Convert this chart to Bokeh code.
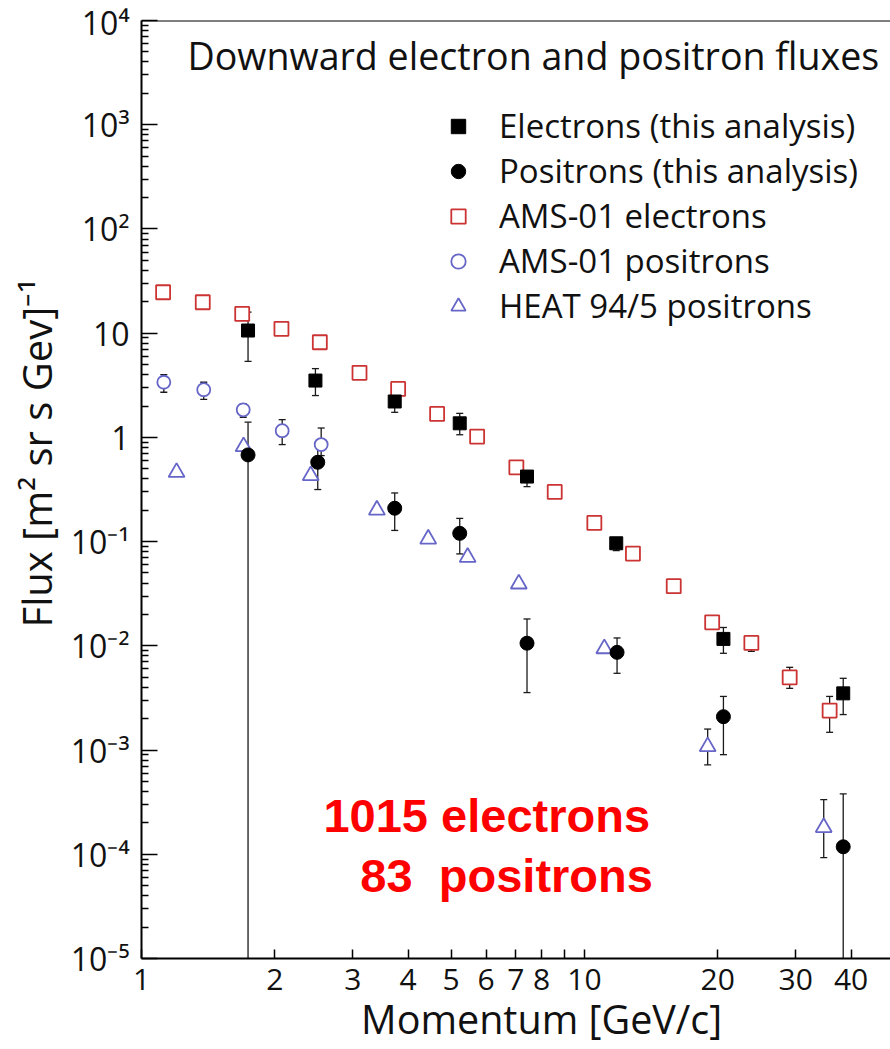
from bokeh.plotting import figure
from bokeh.models import (FixedTicker, Label, Span, Legend, LegendItem, Range1d)
from bokeh.embed import file_html
from bokeh.resources import INLINE

# ---------------- data ----------------
# Electrons (this analysis)
e_mom = [1.74, 2.47, 3.73, 5.23, 7.42, 11.8, 20.6, 38.4]
e_flux = [10.6, 3.51, 2.21, 1.365, 0.421, 0.0964, 0.01165, 0.0035]
e_lo = [5.37, 2.52, 1.74, 1.06, 0.337, 0.082, 0.00848, 0.00219]
e_hi = [15.9, 4.57, 2.63, 1.70, 0.462, 0.109, 0.015, 0.00488]

# Positrons (this analysis)
p_mom = [1.74, 2.50, 3.73, 5.23, 7.42, 11.85, 20.6, 38.4]
p_flux = [0.679, 0.577, 0.209, 0.120, 0.0106, 0.00866, 0.00209, 1.18e-4]
p_lo = [1e-8, 0.316, 0.128, 0.0762, 0.00356, 0.00545, 0.000903, 1e-8]
p_hi = [1.40, 0.822, 0.293, 0.167, 0.0181, 0.0119, 0.00327, 3.79e-4]

# AMS-01 electrons
ame_mom = [1.119, 1.375, 1.688, 2.07, 2.527, 3.106, 3.797, 4.65, 5.725, 7.02,
           8.57, 10.53, 12.87, 15.91, 19.43, 23.82, 29.07, 35.78]
ame_flux = [24.7, 19.8, 15.3, 11.0, 8.18, 4.16, 2.92, 1.68, 1.018, 0.516,
            0.300, 0.151, 0.0767, 0.0374, 0.0168, 0.01067, 0.00499, 0.00239]
ame_lo = [23.5, 18.8, 14.5, 10.4, 7.8, 3.95, 2.77, 1.60, 0.965, 0.49,
          0.285, 0.143, 0.0728, 0.0354, 0.0158, 0.00885, 0.00391, 0.00148]
ame_hi = [26.0, 20.8, 16.1, 11.6, 8.6, 4.37, 3.07, 1.77, 1.07, 0.543,
          0.316, 0.159, 0.0806, 0.0394, 0.0178, 0.01245, 0.00622, 0.00327]

# AMS-01 positrons
amp_mom = [1.123, 1.382, 1.697, 2.078, 2.545]
amp_flux = [3.38, 2.87, 1.84, 1.16, 0.853]
amp_lo = [2.71, 2.32, 1.56, 0.853, 0.669]
amp_hi = [4.01, 3.38, 2.11, 1.48, 1.23]

# HEAT 94/5 positrons
heat_mom = [1.20, 1.70, 2.41, 3.40, 4.44, 5.45, 7.11, 11.09, 18.98, 34.7]
heat_flux = [0.462, 0.816, 0.430, 0.201, 0.106, 0.0707, 0.0393, 0.0094, 0.00108, 1.81e-4]
heat_lo = [0.44, 0.78, 0.41, 0.192, 0.101, 0.0675, 0.0375, 0.0089, 0.00072, 9.3e-5]
heat_hi = [0.485, 0.855, 0.45, 0.21, 0.111, 0.074, 0.0411, 0.0099, 0.00159, 3.34e-4]

# axis ticks and labels
x_ticks = [1, 2, 3, 4, 5, 6, 7, 8, 10, 20, 30, 40]
x_tick_labels = ["1", "2", "3", "4", "5", "6", "7", "8", "10", "20", "30", "40"]
x_minor = [9, 50]
y_ticks = [1e-5, 1e-4, 1e-3, 1e-2, 1e-1, 1.0, 10.0, 100.0, 1000.0, 10000.0]
y_tick_labels = ["10\u207b\u2075", "10\u207b\u2074", "10\u207b\u00b3", "10\u207b\u00b2",
                 "10\u207b\u00b9", "1", "10", "10\u00b2", "10\u00b3", "10\u2074"]

legend_labels = ["Electrons (this analysis)", "Positrons (this analysis)",
                 "AMS-01 electrons", "AMS-01 positrons", "HEAT 94/5 positrons"]

RED = "#cc3333"
BLUE = "#6666c8"
ERR = "#1a1a1a"
FONT = "Open Sans"
NBSP = "\u00a0"

p = figure(width=890, height=1049, x_axis_type="log", y_axis_type="log",
           x_range=Range1d(1, 49.1), y_range=Range1d(1e-5, 1e4),
           output_backend="svg", toolbar_location=None,
           min_border_left=141, min_border_right=0, min_border_top=20,
           min_border_bottom=91)
p.outline_line_color = None
p.xgrid.visible = False
p.ygrid.visible = False
p.background_fill_color = "white"
p.border_fill_color = "white"

# top frame line
p.add_layout(Span(location=1e4, dimension="width", line_color="black", line_width=2))

# axes
xa = p.xaxis[0]
xa.ticker = FixedTicker(ticks=x_ticks, minor_ticks=x_minor)
xa.major_label_overrides = {t: l for t, l in zip(x_ticks, x_tick_labels)}
ya = p.yaxis[0]
ya.ticker = FixedTicker(ticks=y_ticks,
                        minor_ticks=[k * 10.0 ** d for d in range(-5, 4) for k in range(2, 10)])
ya.major_label_overrides = {t: l for t, l in zip(y_ticks, y_tick_labels)}
for ax in (xa, ya):
    ax.axis_line_width = 2
    ax.axis_line_color = "black"
    ax.major_tick_out = 0
    ax.minor_tick_out = 0
    ax.major_tick_line_width = 1.5
    ax.minor_tick_line_width = 1.5
    ax.major_label_text_font = FONT
    ax.major_label_text_color = "#111111"
    ax.axis_label_text_font = FONT
    ax.axis_label_text_font_style = "normal"
    ax.axis_label_text_color = "#111111"
xa.major_label_text_font_size = "30px"
ya.major_label_text_font_size = "32px"
xa.axis_label_text_font_size = "39.5px"
ya.axis_label_text_font_size = "40px"
xa.major_tick_in = 9
xa.minor_tick_in = 9
xa.major_label_standoff = 10
ya.major_tick_in = 16
ya.minor_tick_in = 7
ya.major_label_standoff = 12
xa.axis_label = NBSP * 5 + "Momentum [GeV/c]"
xa.axis_label_standoff = -1
ya.axis_label = NBSP * 7 + "Flux [m\u00b2 sr s Gev]\u207b\u00b9"
ya.axis_label_standoff = 4


def errbars(x, lo, hi):
    p.segment(x0=x, y0=lo, x1=x, y1=hi, line_color=ERR, line_width=1.3)
    p.scatter(x=x, y=lo, marker="dash", size=7, line_color=ERR, line_width=1.3)
    p.scatter(x=x, y=hi, marker="dash", size=7, line_color=ERR, line_width=1.3)


for xs, lo, hi in [(ame_mom, ame_lo, ame_hi), (amp_mom, amp_lo, amp_hi),
                   (heat_mom, heat_lo, heat_hi), (e_mom, e_lo, e_hi), (p_mom, p_lo, p_hi)]:
    errbars(xs, lo, hi)

r_ame = p.scatter(ame_mom, ame_flux, marker="square", size=14, line_color=RED,
                  line_width=1.8, fill_color="white")
r_amp = p.scatter(amp_mom, amp_flux, marker="circle", size=13, line_color=BLUE,
                  line_width=1.8, fill_color="white")
r_heat = p.scatter(heat_mom, heat_flux, marker="triangle", size=16, line_color=BLUE,
                   line_width=1.8, fill_color="white")
r_e = p.scatter(e_mom, e_flux, marker="square", size=13, line_color="black",
                fill_color="black")
r_p = p.scatter(p_mom, p_flux, marker="circle", size=14, line_color="black",
                fill_color="black")

legend = Legend(items=[LegendItem(label=l, renderers=[r]) for l, r in
                       zip(legend_labels, [r_e, r_p, r_ame, r_amp, r_heat])],
                location=(299, 630), orientation="vertical",
                border_line_color=None, background_fill_alpha=0,
                padding=0, margin=0, spacing=0, glyph_width=36, glyph_height=36,
                label_height=36, label_standoff=23,
                label_text_font=FONT, label_text_font_size="33px",
                label_text_color="#111111")
p.add_layout(legend)

p.add_layout(Label(x=1.27, y=4666, text="Downward electron and positron fluxes",
                   text_font=FONT, text_font_size="37.6px", text_color="#111111",
                   text_baseline="alphabetic"))
p.add_layout(Label(x=2.575, y=2.33e-4, text="1015 electrons",
                   text_font="Liberation Sans", text_font_style="bold",
                   text_font_size="47px", text_color="#ff0000", text_baseline="alphabetic"))
p.add_layout(Label(x=3.12, y=6.30e-5, text="83\u00a0 positrons",
                   text_font="Liberation Sans", text_font_style="bold",
                   text_font_size="47px", text_color="#ff0000", text_baseline="alphabetic"))

open("out.html", "w").write(file_html(p, INLINE))
